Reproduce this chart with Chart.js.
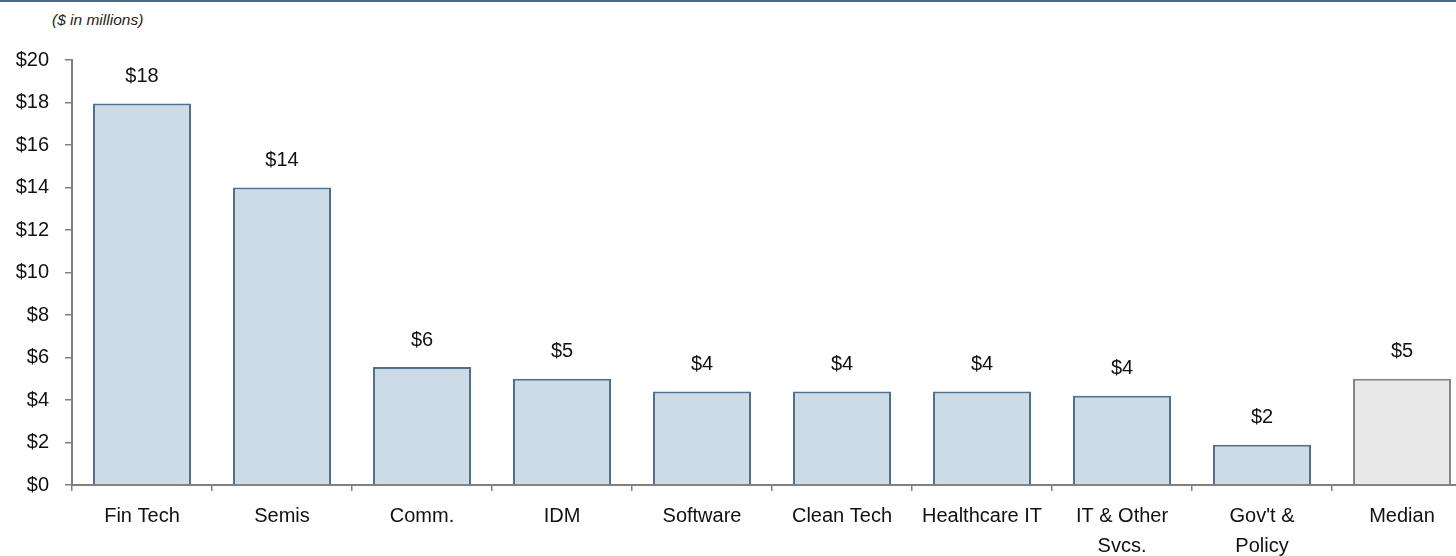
<!DOCTYPE html>
<html>
<head>
<meta charset="utf-8">
<script src="https://cdn.jsdelivr.net/npm/chart.js@4.4.1/dist/chart.umd.min.js"></script>
<style>
  html, body { margin: 0; padding: 0; background: #fff; overflow: hidden; }
  #wrap { position: relative; width: 1456px; height: 556px; overflow: hidden; border-top: 2px solid #3f6b94; box-sizing: border-box; }
  #note { position: absolute; left: 52px; top: 9px; font: italic 15.5px "Liberation Sans", Arial, sans-serif; color: #222; }
  #box { position: absolute; left: 0; top: -2px; width: 1472px; height: 556px; }
</style>
</head>
<body>
<div id="wrap">
  <div id="note">($ in millions)</div>
  <div id="box"><canvas id="chart"></canvas></div>
</div>
<script>
var categories = ['Fin Tech', 'Semis', 'Comm.', 'IDM', 'Software', 'Clean Tech', 'Healthcare IT', ['IT & Other', 'Svcs.'], ["Gov't &", 'Policy'], 'Median'];
var values     = [17.95, 14.0, 5.55, 5.0, 4.4, 4.4, 4.4, 4.2, 1.9, 5.0];
var valueLabels = ['$18', '$14', '$6', '$5', '$4', '$4', '$4', '$4', '$2', '$5'];
var yTicks     = [0, 2, 4, 6, 8, 10, 12, 14, 16, 18, 20];

var fills   = values.map(function (v, i) { return i === values.length - 1 ? '#e8e8e8' : '#cddbe6'; });
var borders = values.map(function (v, i) { return i === values.length - 1 ? '#858585' : '#4d7093'; });

var FONT = '"Liberation Sans", Arial, sans-serif';

var valueLabelPlugin = {
  id: 'valueLabels',
  afterDatasetsDraw: function (chart) {
    var ctx = chart.ctx;
    var meta = chart.getDatasetMeta(0);
    ctx.save();
    ctx.font = '20px ' + FONT;
    ctx.fillStyle = '#111';
    ctx.textAlign = 'center';
    ctx.textBaseline = 'middle';
    meta.data.forEach(function (bar, i) {
      ctx.fillText(valueLabels[i], bar.x, bar.y - 27);
    });
    ctx.restore();
  }
};

new Chart(document.getElementById('chart'), {
  type: 'bar',
  data: {
    labels: categories,
    datasets: [{
      data: values,
      backgroundColor: fills,
      borderColor: borders,
      borderWidth: 2,
      borderSkipped: 'bottom',
      categoryPercentage: 1,
      barPercentage: 0.7
    }]
  },
  options: {
    responsive: true,
    maintainAspectRatio: false,
    animation: false,
    layout: { padding: { top: 60, left: 0, right: 0, bottom: 0 } },
    plugins: { legend: { display: false }, tooltip: { enabled: false } },
    scales: {
      x: {
        grid: { display: true, drawOnChartArea: false, offset: true, tickLength: 6, color: '#808080', lineWidth: 1.5 },
        border: { color: '#808080', width: 2 },
        ticks: { color: '#111', font: { family: FONT, size: 20, lineHeight: 1.5 }, padding: 10, maxRotation: 0, autoSkip: false },
        afterFit: function (scale) { scale.height = 71; }
      },
      y: {
        min: 0,
        max: 20,
        afterBuildTicks: function (scale) { scale.ticks = yTicks.map(function (v) { return { value: v }; }); },
        grid: { display: true, drawOnChartArea: false, tickLength: 7, color: '#808080', lineWidth: 1.5 },
        border: { color: '#808080', width: 2 },
        ticks: {
          color: '#111',
          font: { family: FONT, size: 20 },
          padding: 16,
          callback: function (v) { return '$' + v; }
        },
        afterFit: function (scale) { scale.width = 72; }
      }
    }
  },
  plugins: [valueLabelPlugin]
});
</script>
</body>
</html>
